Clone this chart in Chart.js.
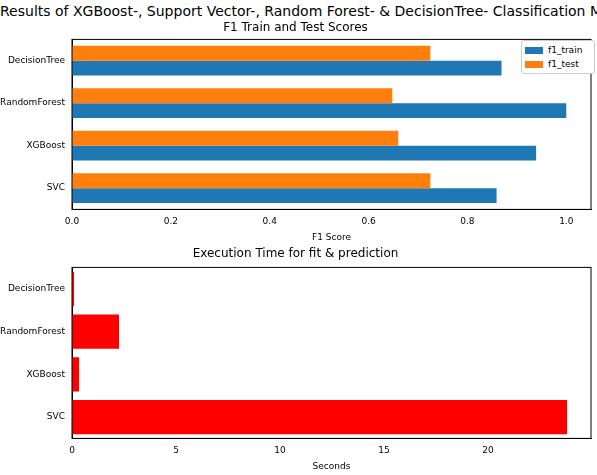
<!DOCTYPE html>
<html>
<head>
<script src="https://cdn.jsdelivr.net/npm/chart.js@4"></script>
<style>
body { margin: 0; background: #fff; font-family: "DejaVu Sans"; }
#title { position: absolute; left: 0; top: 3px; width: 597px; text-align: center; font-size: 14px; white-space: nowrap; }
.box { position: absolute; left: 0; width: 597px; }
#legend { position: absolute; left: 521px; top: 40px; width: 66px; border: 1px solid #ccc; border-radius: 3px; background: #fff; font-size: 9px; padding: 2px 3px; }
#legend div { display: flex; align-items: center; height: 14px; }
#legend span { display: inline-block; width: 18px; height: 7px; margin-right: 5px; }
</style>
</head>
<body>
<div id="title">Results of XGBoost-, Support Vector-, Random Forest- &amp; DecisionTree- Classification Model</div>
<div class="box" style="top:19px;height:226px"><canvas id="f1Chart"></canvas></div>
<div class="box" style="top:245px;height:229px"><canvas id="timeChart"></canvas></div>
<div id="legend"><div><span style="background:#1f77b4"></span>f1_train</div><div><span style="background:#ff7f0e"></span>f1_test</div></div>
<script>
const models = ["DecisionTree", "RandomForest", "XGBoost", "SVC"];
const f1Train = [0.869, 1.0, 0.939, 0.859];
const f1Test = [0.725, 0.648, 0.66, 0.725];
const execSeconds = [0.1, 2.26, 0.34, 23.8];
const f1Ticks = [0, 0.2, 0.4, 0.6, 0.8, 1.0];
const secTicks = [0, 5, 10, 15, 20];

Chart.defaults.font.family = "DejaVu Sans";
Chart.defaults.font.size = 9;
Chart.defaults.color = "#000";
Chart.defaults.animation = false;

const frame = {
    id: "frame",
    afterDraw(chart) {
        const a = chart.chartArea, c = chart.ctx;
        c.save();
        c.strokeStyle = "#000";
        c.lineWidth = 1;
        c.strokeRect(a.left, a.top, a.right - a.left, a.bottom - a.top);
        c.restore();
    },
};

function xScale(max, ticks, label) {
    return {
        min: 0, max: max,
        afterBuildTicks: (s) => { s.ticks = ticks.map((v) => ({ value: v })); },
        ticks: { callback: (v) => (max < 2 ? v.toFixed(1) : v), maxRotation: 0 },
        grid: { display: false, drawTicks: true, tickLength: 4 },
        border: { color: "#000" },
        title: { display: true, text: label, font: { size: 9 }, padding: 2 },
    };
}

const yScale = {
    grid: { display: false, tickLength: 4 },
    border: { color: "#000" },
    afterFit: (s) => { s.width = 72; },
};

new Chart(document.getElementById("f1Chart"), {
    type: "bar",
    data: {
        labels: models,
        datasets: [
            { label: "f1_test", data: f1Test, backgroundColor: "#ff7f0e" },
            { label: "f1_train", data: f1Train, backgroundColor: "#1f77b4" },
        ],
    },
    options: {
        indexAxis: "y",
        responsive: true,
        maintainAspectRatio: false,
        layout: { padding: { left: 0, right: 6 } },
        datasets: { bar: { categoryPercentage: 0.7, barPercentage: 1.0 } },
        scales: { x: xScale(1.05, f1Ticks, "F1 Score"), y: yScale },
        plugins: {
            title: { display: true, text: "F1 Train and Test Scores", font: { size: 12, weight: "normal" }, padding: { top: 2, bottom: 4 } },
            legend: { display: false },
            tooltip: { enabled: false },
        },
    },
    plugins: [frame],
});

new Chart(document.getElementById("timeChart"), {
    type: "bar",
    data: {
        labels: models,
        datasets: [{ label: "Seconds", data: execSeconds, backgroundColor: "#ff0000" }],
    },
    options: {
        indexAxis: "y",
        responsive: true,
        maintainAspectRatio: false,
        layout: { padding: { left: 0, right: 6 } },
        datasets: { bar: { categoryPercentage: 0.8, barPercentage: 1.0 } },
        scales: { x: xScale(24.95, secTicks, "Seconds"), y: yScale },
        plugins: {
            title: { display: true, text: "Execution Time for fit & prediction", font: { size: 12, weight: "normal" }, padding: { top: 2, bottom: 6 } },
            legend: { display: false },
            tooltip: { enabled: false },
        },
    },
    plugins: [frame],
});
</script>
</body>
</html>
